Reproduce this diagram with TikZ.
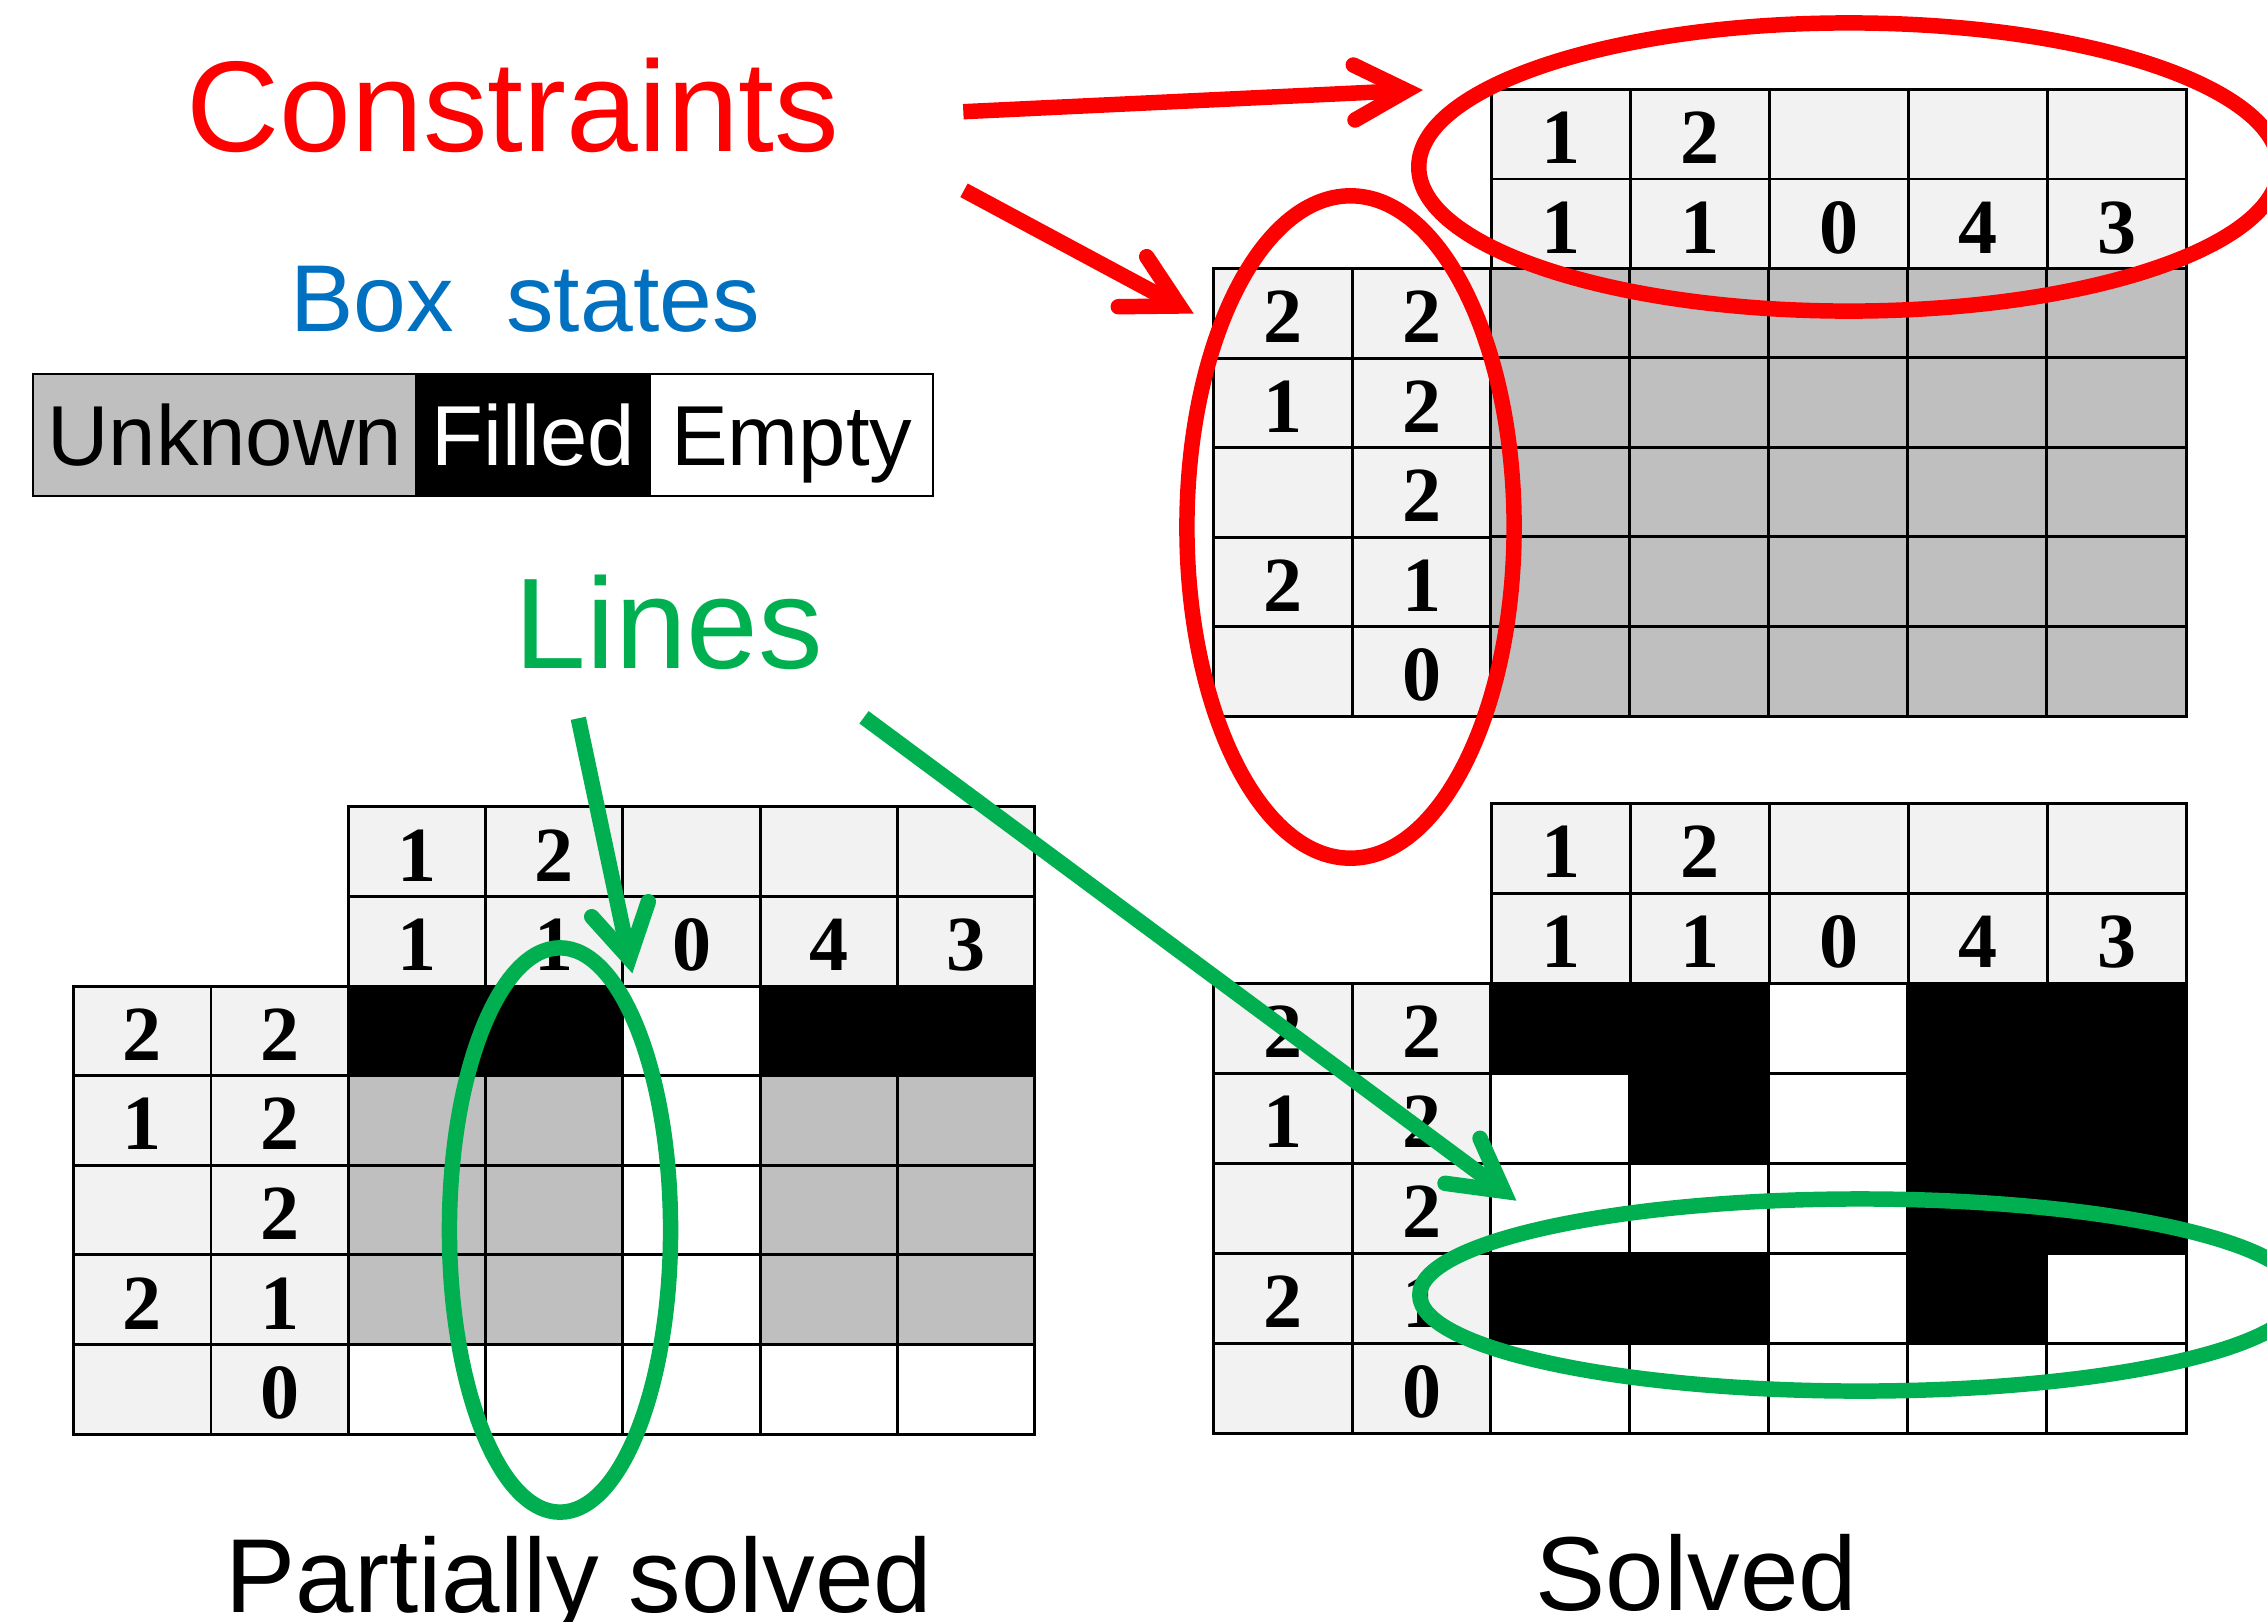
\documentclass[tikz,border=0pt]{standalone}
\usepackage{fontspec}
\setmainfont{Liberation Sans}
\newfontfamily\cluefont{Liberation Serif}
\usetikzlibrary{shapes.geometric}
\definecolor{cluegray}{RGB}{242,242,242}
\definecolor{unkgray}{RGB}{191,191,191}
\definecolor{cred}{RGB}{255,0,0}
\definecolor{cblue}{RGB}{0,112,192}
\definecolor{cgreen}{RGB}{0,176,80}
\tikzset{
  cell/.style={rectangle, draw=black, line width=0.85pt, inner sep=0pt, outer sep=0pt,
    text height=16.7pt, text depth=0pt,
    font=\cluefont\bfseries\fontsize{22.2}{22.2}\selectfont},
  legendbox/.style={rectangle, draw=black, line width=0.6pt, inner sep=0pt, outer sep=0pt,
    minimum height=1.227cm, text height=17.4pt, text depth=0pt,
    font=\fontsize{24.2}{24.2}\selectfont},
  titletext/.style={anchor=base, inner sep=0pt, font=\fontsize{36.7}{36.7}\selectfont},
  captiontext/.style={anchor=base, inner sep=0pt, font=\fontsize{29.9}{29.9}\selectfont},
  ring/.style={ellipse, draw, line width=4.4pt, inner sep=0pt, outer sep=0pt},
  redpen/.style={draw=cred, line width=4.4pt},
  greenpen/.style={draw=cgreen, line width=4.4pt},
  barb/.style={line cap=round, line join=miter, miter limit=10},
}
\begin{document}
\begin{tikzpicture}[x=0.01cm, y=-0.01cm]
\useasboundingbox (0,0) rectangle (2267,1621);
\fill[white] (0,0) rectangle (2267,1621);

% ---------- clue cells of the three puzzles ----------
\foreach \g/\X/\Y/\W/\H in {A/1213/89.5/139/89.5, B/73.7/806.9/137.3/89.6, C/1213/803.6/139/90}{
  \foreach \t [count=\c from 2] in {1,2,{},{},{}}
    \node[cell, fill=cluegray, minimum width=\W*0.01cm, minimum height=\H*0.01cm]
      (\g-0-\c) at ({\X+(\c+0.5)*\W},{\Y+0.5*\H}) {\t};
  \foreach \t [count=\c from 2] in {1,1,0,4,3}
    \node[cell, fill=cluegray, minimum width=\W*0.01cm, minimum height=\H*0.01cm]
      (\g-1-\c) at ({\X+(\c+0.5)*\W},{\Y+1.5*\H}) {\t};
  \foreach \a/\b [count=\r from 2] in {2/2,1/2,{}/2,2/1,{}/0}{
    \node[cell, fill=cluegray, minimum width=\W*0.01cm, minimum height=\H*0.01cm]
      (\g-\r-0) at ({\X+0.5*\W},{\Y+(\r+0.5)*\H}) {\a};
    \node[cell, fill=cluegray, minimum width=\W*0.01cm, minimum height=\H*0.01cm]
      (\g-\r-1) at ({\X+1.5*\W},{\Y+(\r+0.5)*\H}) {\b};
  }
}

% ---------- body cells ----------
\foreach \row [count=\r from 2] in {
  {unkgray,unkgray,unkgray,unkgray,unkgray},
  {unkgray,unkgray,unkgray,unkgray,unkgray},
  {unkgray,unkgray,unkgray,unkgray,unkgray},
  {unkgray,unkgray,unkgray,unkgray,unkgray},
  {unkgray,unkgray,unkgray,unkgray,unkgray}}
  \foreach \s [count=\c from 2] in \row
    \node[cell, fill=\s, minimum width=1.39cm, minimum height=0.895cm]
      (A-\r-\c) at ({1213+(\c+0.5)*139},{89.5+(\r+0.5)*89.5}) {};

\foreach \row [count=\r from 2] in {
  {black,black,white,black,black},
  {unkgray,unkgray,white,unkgray,unkgray},
  {unkgray,unkgray,white,unkgray,unkgray},
  {unkgray,unkgray,white,unkgray,unkgray},
  {white,white,white,white,white}}
  \foreach \s [count=\c from 2] in \row
    \node[cell, fill=\s, minimum width=1.373cm, minimum height=0.896cm]
      (B-\r-\c) at ({73.7+(\c+0.5)*137.3},{806.9+(\r+0.5)*89.6}) {};

\foreach \row [count=\r from 2] in {
  {black,black,white,black,black},
  {white,black,white,black,black},
  {white,white,white,black,black},
  {black,black,white,black,white},
  {white,white,white,white,white}}
  \foreach \s [count=\c from 2] in \row
    \node[cell, fill=\s, minimum width=1.39cm, minimum height=0.90cm]
      (C-\r-\c) at ({1213+(\c+0.5)*139},{803.6+(\r+0.5)*90}) {};

% ---------- texts ----------
\node[titletext, text=cred] (tCon) at (513,151.5) {Constraints};
\node[anchor=base, inner sep=0pt, font=\fontsize{27}{27}\selectfont, text=cblue]
  (tBox) at (525,331) {Box\ \ states};
\node[titletext, text=cgreen] (tLines) at (669,668) {Lines};
\node[captiontext] (tPart) at (579,1612) {Partially solved};
\node[captiontext] (tSolved) at (1696.5,1610) {Solved};

% ---------- legend ----------
\node[legendbox, fill=unkgray, minimum width=3.835cm] (legU) at (224.75,435) {Unknown};
\node[legendbox, fill=black, text=white, minimum width=2.34cm] (legF) at (533.5,435) {Filled};
\node[legendbox, fill=white, minimum width=2.825cm] (legE) at (791.75,435) {Empty};

% ---------- rings ----------
\node[ring, draw=cred, minimum width=8.6cm, minimum height=2.88cm] (conTop) at (1849,167) {};
\node[ring, draw=cred, minimum width=3.27cm, minimum height=6.62cm] (conLeft) at (1350.5,527) {};
\node[ring, draw=cgreen, minimum width=2.21cm, minimum height=5.64cm] (lineV) at (560,1230) {};
\node[ring, draw=cgreen, minimum width=8.8cm, minimum height=1.92cm] (lineH) at (1860,1295) {};

% ---------- arrows ----------
\coordinate (ra1s) at (963.3,111.7);
\coordinate (ra1t) at (1406.3,90.6);
\coordinate (ra1a) at (1353.3,65);
\coordinate (ra1b) at (1355,120);
\draw[redpen] (ra1s) -- (ra1t);
\draw[redpen, barb] (ra1a) -- (ra1t) -- (ra1b);

\coordinate (ra2s) at (964,190.3);
\coordinate (ra2t) at (1179.4,306);
\coordinate (ra2a) at (1118.3,306.7);
\coordinate (ra2b) at (1146.7,256.7);
\draw[redpen] (ra2s) -- (ra2t);
\draw[redpen, barb] (ra2a) -- (ra2t) -- (ra2b);

\coordinate (ga1s) at (578.3,718.3);
\coordinate (ga1t) at (629.2,958.3);
\coordinate (ga1a) at (591.7,916.7);
\coordinate (ga1b) at (648.3,901.7);
\draw[greenpen] (ga1s) -- (ga1t);
\draw[greenpen, barb] (ga1a) -- (ga1t) -- (ga1b);

\coordinate (ga2s) at (864,717.3);
\coordinate (ga2t) at (1503.7,1191.2);
\coordinate (ga2a) at (1445,1183.3);
\coordinate (ga2b) at (1480,1138.3);
\draw[greenpen] (ga2s) -- (ga2t);
\draw[greenpen, barb] (ga2a) -- (ga2t) -- (ga2b);
\end{tikzpicture}
\end{document}
